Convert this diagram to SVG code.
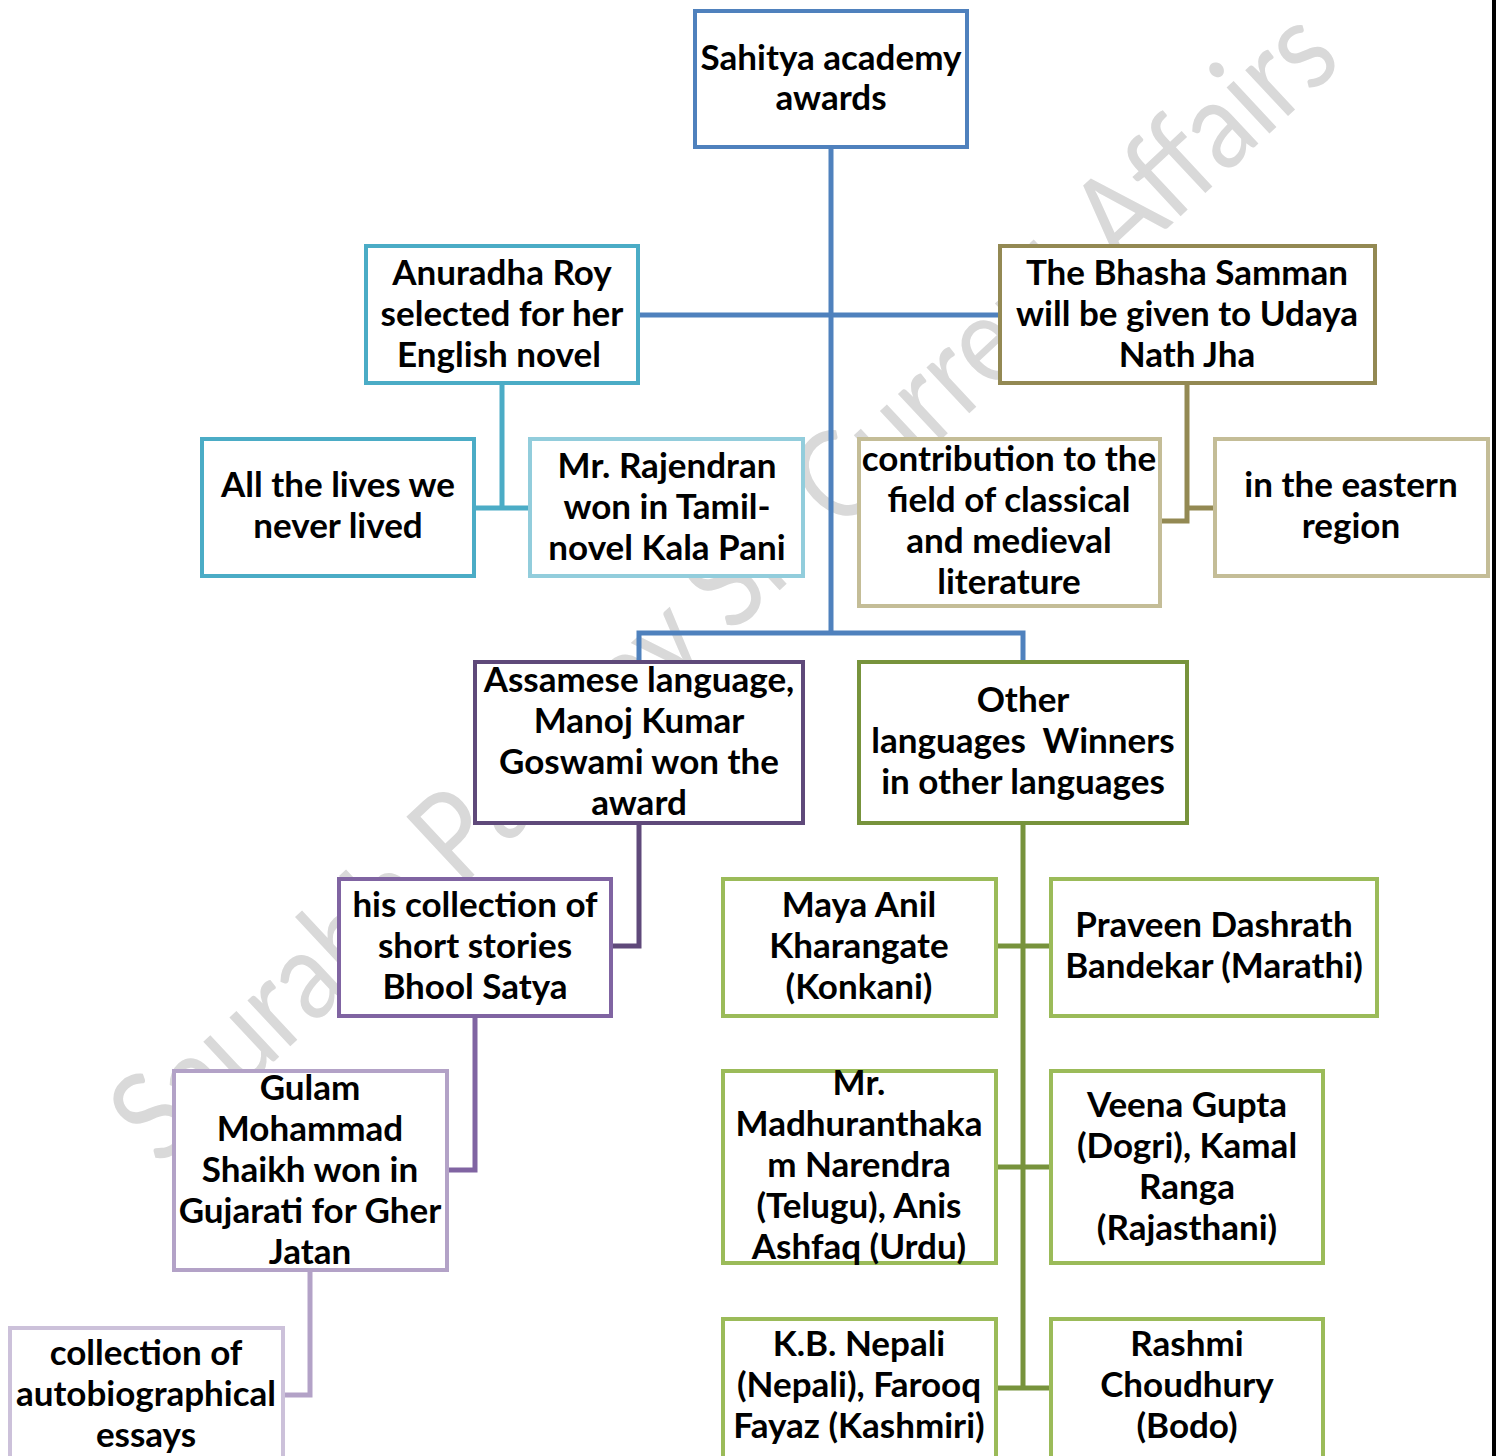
<svg xmlns="http://www.w3.org/2000/svg" width="1496" height="1456" viewBox="0 0 1496 1456">
<style>
.box{fill:#ffffff;stroke-width:4}
.t{font-family:Lato,"Open Sans","DejaVu Sans",sans-serif;font-weight:bold;font-size:35px;fill:#000000;text-anchor:middle}
.c{fill:none;stroke-width:5;stroke-linecap:butt}
.wm{font-family:Lato,"Open Sans",sans-serif;font-size:124px;fill:#d9d9d9}
</style>
<rect x="0" y="0" width="1496" height="1456" fill="#ffffff"/>
<text class="wm" transform="translate(160,1168) rotate(-43)" textLength="1620" lengthAdjust="spacingAndGlyphs">Saurabh Pandey Sir Current Affairs</text>
<g id="connectors">
<path class="c" stroke="#4F81BD" d="M831,147 V633 M638,315 H1000 M639,662 V633 H1023 V662"/>
<path class="c" stroke="#4BACC6" d="M502,383 V508 M475,508 H530"/>
<path class="c" stroke="#938953" d="M1187,383 V521 H1160 M1187,508 H1215"/>
<path class="c" stroke="#5F497A" d="M639,823 V946 H611"/>
<path class="c" stroke="#8064A2" d="M475,1016 V1170 H447"/>
<path class="c" stroke="#B3A2C7" d="M310,1270 V1395 H283"/>
<path class="c" stroke="#77933C" d="M1023,823 V1388 M996,946 H1051 M996,1167 H1051 M996,1388 H1051"/>
</g>
<g id="n-sahitya">
<rect class="box" stroke="#4F81BD" x="695" y="11" width="272" height="136"/>
<text class="t" x="831" y="70">Sahitya academy</text>
<text class="t" x="831" y="110">awards</text>
</g>
<g id="n-anuradha">
<rect class="box" stroke="#4BACC6" x="366" y="246" width="272" height="137"/>
<text class="t" x="502" y="285">Anuradha Roy</text>
<text class="t" x="502" y="326">selected for her</text>
<text class="t" x="499" y="367">English novel</text>
</g>
<g id="n-bhasha">
<rect class="box" stroke="#938953" x="1000" y="246" width="375" height="137"/>
<text class="t" x="1187" y="285">The Bhasha Samman</text>
<text class="t" x="1187" y="326">will be given to Udaya</text>
<text class="t" x="1187" y="367">Nath Jha</text>
</g>
<g id="n-alllives">
<rect class="box" stroke="#4BACC6" x="202" y="439" width="272" height="137"/>
<text class="t" x="338" y="497">All the lives we</text>
<text class="t" x="338" y="538">never lived</text>
</g>
<g id="n-rajendran">
<rect class="box" stroke="#92CDDC" x="530" y="439" width="273" height="137"/>
<text class="t" x="667" y="478">Mr. Rajendran</text>
<text class="t" x="667" y="519">won in Tamil-</text>
<text class="t" x="667" y="560">novel Kala Pani</text>
</g>
<g id="n-contribution">
<rect class="box" stroke="#C4BD97" x="859" y="439" width="301" height="167"/>
<text class="t" x="1009" y="471">contribution to the</text>
<text class="t" x="1009" y="512">field of classical</text>
<text class="t" x="1009" y="553">and medieval</text>
<text class="t" x="1009" y="594">literature</text>
</g>
<g id="n-eastern">
<rect class="box" stroke="#C4BD97" x="1215" y="439" width="273" height="137"/>
<text class="t" x="1351" y="497">in the eastern</text>
<text class="t" x="1351" y="538">region</text>
</g>
<g id="n-assamese">
<rect class="box" stroke="#5F497A" x="475" y="662" width="328" height="161"/>
<text class="t" x="639" y="692">Assamese language,</text>
<text class="t" x="639" y="733">Manoj Kumar</text>
<text class="t" x="639" y="774">Goswami won the</text>
<text class="t" x="639" y="815">award</text>
</g>
<g id="n-other">
<rect class="box" stroke="#77933C" x="859" y="662" width="328" height="161"/>
<text class="t" x="1023" y="712">Other</text>
<text class="t" x="1023" y="753" xml:space="preserve">languages  Winners</text>
<text class="t" x="1023" y="794">in other languages</text>
</g>
<g id="n-collection">
<rect class="box" stroke="#8064A2" x="339" y="879" width="272" height="137"/>
<text class="t" x="475" y="917">his collection of</text>
<text class="t" x="475" y="958">short stories</text>
<text class="t" x="475" y="999">Bhool Satya</text>
</g>
<g id="n-gulam">
<rect class="box" stroke="#B3A2C7" x="174" y="1071" width="273" height="199"/>
<text class="t" x="310" y="1100">Gulam</text>
<text class="t" x="310" y="1141">Mohammad</text>
<text class="t" x="310" y="1182">Shaikh won in</text>
<text class="t" x="310" y="1223">Gujarati for Gher</text>
<text class="t" x="310" y="1264">Jatan</text>
</g>
<g id="n-essays">
<rect class="box" stroke="#CCC1DA" x="10" y="1328" width="273" height="140"/>
<text class="t" x="146" y="1365">collection of</text>
<text class="t" x="146" y="1406">autobiographical</text>
<text class="t" x="146" y="1447">essays</text>
</g>
<g id="n-maya">
<rect class="box" stroke="#9BBB59" x="723" y="879" width="273" height="137"/>
<text class="t" x="859" y="917">Maya Anil</text>
<text class="t" x="859" y="958">Kharangate</text>
<text class="t" x="859" y="999">(Konkani)</text>
</g>
<g id="n-praveen">
<rect class="box" stroke="#9BBB59" x="1051" y="879" width="326" height="137"/>
<text class="t" x="1214" y="937">Praveen Dashrath</text>
<text class="t" x="1214" y="978">Bandekar (Marathi)</text>
</g>
<g id="n-madhu">
<rect class="box" stroke="#9BBB59" x="723" y="1071" width="273" height="192"/>
<text class="t" x="859" y="1095">Mr.</text>
<text class="t" x="859" y="1136">Madhuranthaka</text>
<text class="t" x="859" y="1177">m Narendra</text>
<text class="t" x="859" y="1218">(Telugu), Anis</text>
<text class="t" x="859" y="1259">Ashfaq (Urdu)</text>
</g>
<g id="n-veena">
<rect class="box" stroke="#9BBB59" x="1051" y="1071" width="272" height="192"/>
<text class="t" x="1187" y="1117">Veena Gupta</text>
<text class="t" x="1187" y="1158">(Dogri), Kamal</text>
<text class="t" x="1187" y="1199">Ranga</text>
<text class="t" x="1187" y="1240">(Rajasthani)</text>
</g>
<g id="n-kb">
<rect class="box" stroke="#9BBB59" x="723" y="1319" width="273" height="150"/>
<text class="t" x="859" y="1356">K.B. Nepali</text>
<text class="t" x="859" y="1397">(Nepali), Farooq</text>
<text class="t" x="859" y="1438">Fayaz (Kashmiri)</text>
</g>
<g id="n-rashmi">
<rect class="box" stroke="#9BBB59" x="1051" y="1319" width="272" height="150"/>
<text class="t" x="1187" y="1356">Rashmi</text>
<text class="t" x="1187" y="1397">Choudhury</text>
<text class="t" x="1187" y="1438">(Bodo)</text>
</g>
<rect x="1492" y="0" width="4" height="1456" fill="#000000"/>
</svg>
